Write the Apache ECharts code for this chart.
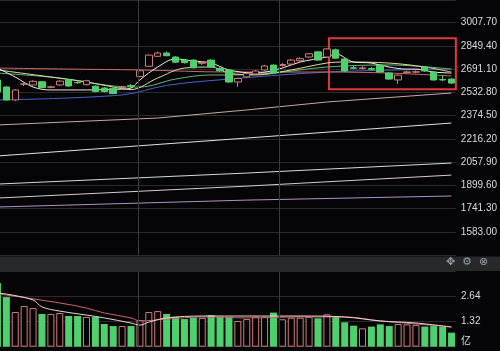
<!DOCTYPE html>
<html><head><meta charset="utf-8">
<script src="https://cdn.jsdelivr.net/npm/echarts@6/dist/echarts.min.js"></script>
<style>html,body{margin:0;padding:0;background:#050507;overflow:hidden;}#c{width:507px;height:351px;margin-left:-7px;}</style>
</head><body><div id="c"></div>
<script>
// ---- data ----
// candles: [open, close, low, high]
const candles = [
 [2617,2535,2528,2630],[2569,2481,2475,2575],[2481,2549,2475,2555],[2588,2590,2575,2600],
 [2583,2608,2578,2615],[2605,2565,2560,2610],[2567,2570,2560,2578],[2583,2609,2578,2615],
 [2617,2576,2570,2622],[2600,2598,2590,2608],[2585,2612,2580,2618],[2575,2538,2532,2580],
 [2562,2538,2532,2568],[2560,2525,2520,2565],[2565,2568,2558,2578],[2578,2575,2568,2590],
 [2640,2680,2635,2688],[2710,2786,2705,2790],[2778,2800,2772,2810],[2800,2782,2778,2810],
 [2773,2738,2732,2780],[2752,2735,2728,2760],[2752,2700,2695,2758],[2730,2735,2720,2745],
 [2752,2705,2700,2758],[2695,2680,2672,2702],[2685,2603,2598,2690],[2603,2627,2570,2632],
 [2638,2660,2632,2668],[2658,2678,2652,2685],[2685,2712,2680,2720],[2718,2664,2658,2722],
 [2715,2722,2708,2732],[2725,2752,2720,2760],[2748,2762,2742,2770],[2773,2795,2768,2800],
 [2808,2752,2748,2812],[2773,2828,2768,2835],[2822,2765,2760,2830],[2760,2678,2672,2766],
 [2700,2696,2690,2712],[2695,2699,2688,2710],[2695,2690,2682,2705],[2718,2671,2665,2725],
 [2664,2623,2618,2670],[2617,2650,2590,2655],[2668,2672,2660,2680],[2670,2673,2662,2682],
 [2705,2678,2672,2710],[2671,2617,2612,2676],[2620,2617,2610,2648],[2623,2596,2590,2628]
];
const volumes = [3.36,2.62,1.83,2.15,2.04,1.73,1.73,1.78,1.62,1.62,1.57,1.57,1.20,1.09,1.09,1.09,
 1.41,1.83,1.88,1.73,1.58,1.46,1.53,1.52,1.67,1.58,1.58,1.36,1.46,1.58,1.58,1.80,1.45,1.53,1.53,
 1.58,1.50,1.71,1.58,1.29,1.11,0.97,1.06,1.18,1.09,1.20,1.18,1.15,1.06,1.09,1.06,0.74];
// moving-average lines: [categoryIndex, value]
const ma5  = [[0,2698],[2,2637],[4,2569],[6,2549],[10,2549],[14,2555],[15,2562],[16,2617],[18,2705],[20,2760],[22,2746],[24,2732],[26,2685],[29,2664],[32,2698],[34,2739],[37,2773],[38,2794],[40,2739],[42,2732],[44,2705],[46,2691],[47,2691],[49,2671],[51,2664]];
const ma10 = [[0,2685],[6,2637],[10,2603],[13,2569],[15,2552],[18,2630],[21,2698],[24,2705],[26,2664],[29,2651],[33,2685],[37,2732],[39,2739],[44,2732],[48,2705],[51,2671]];
const ma20 = [[0,2664],[7,2630],[13,2576],[16,2569],[20,2623],[24,2651],[26,2651],[31,2664],[37,2705],[44,2719],[51,2691]];
const ma30 = [[0,2698],[8,2691],[16,2685],[26,2671],[37,2671],[44,2664],[51,2644]];
const ma60 = [[0,2481],[14,2515],[19,2580],[26,2623],[37,2671],[45,2685],[51,2691]];
const ma120 = [[0,2311],[18,2358],[28,2413],[37,2467],[51,2528]];
const ma250 = [[0,2100],[14,2161],[28,2222],[51,2324]];
const maL3 = [[0,1909],[28,1984],[51,2052]];
const maL4 = [[0,1814],[28,1895],[51,1970]];
const maL5 = [[0,1753],[28,1800],[51,1828]];
const volMa5  = [[0,2.83],[1,2.78],[4,2.47],[5,2.10],[7,1.88],[10,1.67],[12,1.52],[15,1.25],[16,1.14],[17,1.30],[19,1.52],[23,1.62],[28,1.62],[34,1.62],[39,1.57],[43,1.36],[47,1.25],[51,1.04]];
const volMa10 = [[0,2.78],[1,2.73],[7,2.31],[10,2.04],[12,1.78],[15,1.52],[16,1.36],[19,1.46],[23,1.57],[28,1.52],[34,1.57],[39,1.57],[43,1.36],[47,1.20],[51,1.04]];
const priceTicks = {min:1424.7, max:3160.7, interval:158.3};
const volTicks = {min:0, max:3.96, interval:1.32};
const vSeparators = [16.29, 32.12];          // vertical guide lines (in bar-slot units)
const redBox = {from:37.74, to:52, high:2900, low:2554};

// ---- chart ----
const cats = candles.map((_, i) => 'D' + (i + 1));
const BG = '#050507', UP = '#d07a7a', DOWN = '#4fcf6e';
const OX = 7; // the chart canvas starts 7px left of the page edge
const chart = echarts.init(document.getElementById('c'), null, {renderer:'canvas'});
const labelFont = "'Liberation Sans Narrow','Liberation Sans',Arial,sans-serif";
function maLine(name, data, color, smooth, grid) {
  return {name, type:'line', data, xAxisIndex: grid||0, yAxisIndex: grid||0, showSymbol:false, symbol:'none',
    smooth: smooth ? 0.35 : false, connectNulls:true, z:2, silent:true,
    lineStyle:{color, width:1}};
}
const volData = volumes.map((v, i) => {
  const up = candles[i][1] >= candles[i][0];
  return {value: v, itemStyle: up ? {color: BG, borderColor: UP, borderWidth: 1} : {color: DOWN, borderColor: DOWN, borderWidth: 0}};
});
const option = {
  backgroundColor: BG,
  animation: false,
  grid: [
    {left:0, right:44, top:0, height:255.3},
    {left:0, right:44, top:271.7, height:75}
  ],
  xAxis: [
    {type:'category', gridIndex:0, data:cats, boundaryGap:true, show:false},
    {type:'category', gridIndex:1, data:cats, boundaryGap:true, show:false},
    {type:'value', gridIndex:0, min:0, max:52, show:false},
    {type:'value', gridIndex:1, min:0, max:52, show:false}
  ],
  yAxis: [
    {type:'value', gridIndex:0, position:'right', min:priceTicks.min, max:priceTicks.max, interval:priceTicks.interval,
     axisLine:{show:false}, axisTick:{show:false},
     axisLabel:{color:'#dcdcdc', fontSize:10, fontFamily:labelFont, margin:5, showMinLabel:false, showMaxLabel:false,
       formatter: v => v.toFixed(2)},
     splitLine:{lineStyle:{color:'#2a2a2c', width:1}}},
    {type:'value', gridIndex:1, position:'right', min:volTicks.min, max:volTicks.max, interval:volTicks.interval,
     axisLine:{show:false}, axisTick:{show:false},
     axisLabel:{color:'#dcdcdc', fontSize:10, fontFamily:labelFont, margin:5, showMaxLabel:false,
       formatter: v => v === 0 ? '{u|亿}' : v.toFixed(2),
       rich:{u:{color:'#dcdcdc', fontSize:10, fontFamily:"'Noto Sans CJK SC',sans-serif", padding:[0,0,12,0]}}},
     splitLine:{lineStyle:{color:'#2a2a2c', width:1}}}
  ],
  series: [
    {type:'line', xAxisIndex:2, yAxisIndex:0, data:[], silent:true, z:1,
     markLine:{silent:true, symbol:'none', label:{show:false}, lineStyle:{color:'#3a3a3c', type:'solid', width:1},
       data: vSeparators.map(x => ({xAxis:x}))},
     markArea:{silent:true, itemStyle:{color:'rgba(0,0,0,0)', borderColor:'#e0393b', borderWidth:2},
       data:[[{xAxis:redBox.from, yAxis:redBox.high}, {xAxis:redBox.to, yAxis:redBox.low}]]}},
    {type:'line', xAxisIndex:3, yAxisIndex:1, data:[], silent:true, z:1,
     markLine:{silent:true, symbol:'none', label:{show:false}, lineStyle:{color:'#3a3a3c', type:'solid', width:1},
       data: vSeparators.map(x => ({xAxis:x}))}},
    maLine('L5', maL5, '#b48fc4', false),
    maLine('L4', maL4, '#d6cccc', false),
    maLine('L3', maL3, '#d8d8d8', false),
    maLine('MA250', ma250, '#e2e2e2', false),
    maLine('MA120', ma120, '#c9a8a0', false),
    maLine('MA60', ma60, '#4662c8', true),
    maLine('MA30', ma30, '#c86a6a', true),
    maLine('MA20', ma20, '#62b872', true),
    maLine('MA10', ma10, '#e4dba0', true),
    maLine('MA5', ma5, '#f2eee0', true),
    {type:'candlestick', xAxisIndex:0, yAxisIndex:0, data:candles, barWidth:7, z:3, silent:true,
     itemStyle:{color:BG, color0:DOWN, borderColor:UP, borderColor0:DOWN, borderWidth:1}},
    {type:'bar', xAxisIndex:1, yAxisIndex:1, data:volData, barWidth:7, z:2, silent:true},
    maLine('VMA10', volMa10, '#c8646e', true, 1),
    maLine('VMA5', volMa5, '#ead6d6', true, 1)
  ],
  graphic: [
    {type:'rect', left:0, top:256.5, shape:{width:507, height:14.5}, style:{fill:'#26282c'}, z:10},
    {type:'text', left:446 + OX, top:257, style:{text:'✥', fill:'#9aa0a8', font:"11px 'DejaVu Sans'"}, z:11},
    {type:'text', left:462 + OX, top:257, style:{text:'⚙', fill:'#9aa0a8', font:"11px 'DejaVu Sans'"}, z:11},
    {type:'text', left:479 + OX, top:257, style:{text:'⊗', fill:'#9aa0a8', font:"11px 'DejaVu Sans'"}, z:11}
  ]
};
chart.setOption(option);
</script></body></html>
